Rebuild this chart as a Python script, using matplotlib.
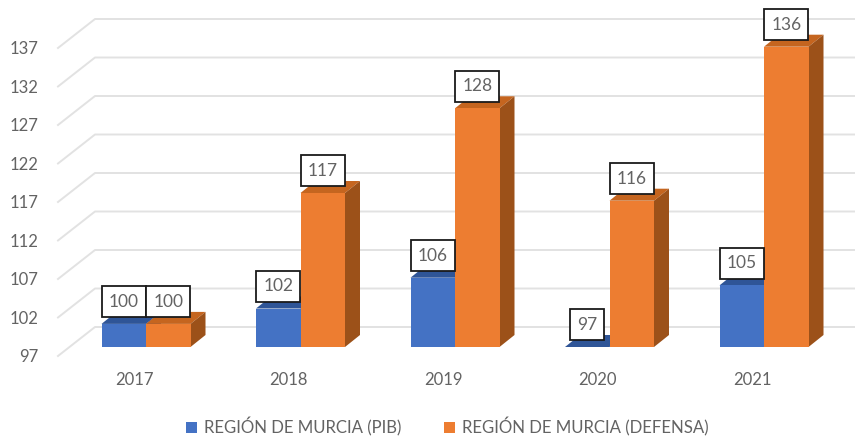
import numpy as np
import matplotlib
matplotlib.use("Agg")
import matplotlib.pyplot as plt
from matplotlib.patches import Polygon, Rectangle

years = ["2017", "2018", "2019", "2020", "2021"]
pib = [100, 102, 106, 97, 105]
defensa = [100, 117, 128, 116, 136]
y_ticks = [97, 102, 107, 112, 117, 122, 127, 132, 137]

W, H = 855, 436
px_x = 154.5  # pixels per category
px_y = 7.7  # pixels per unit
bar_w = 44.5 / px_x
depth_x = 15 / px_x
depth_y = 12 / px_y

plt.rcParams["font.family"] = ["Lato", "DejaVu Sans"]
fig = plt.figure(figsize=(W / 100, H / 100), dpi=100)
ax = fig.add_axes([0, 0, 1, 1])
ax.set_xlim(-146 / px_x, (W - 146) / px_x)
ax.set_ylim(97 - (H - 347) / px_y, 97 + 347 / px_y)
ax.axis("off")

grid_color = "#e2e2e2"
text_color = "#636363"
wall_x0 = ax.get_xlim()[0] + 58 / px_x
wall_x1 = ax.get_xlim()[0] + 95 / px_x
for t in y_ticks:
    y_front = t - 9 / px_y
    y_back = t + 20 / px_y
    ax.plot([wall_x0, wall_x1, ax.get_xlim()[1]], [y_front, y_back, y_back],
            color=grid_color, lw=1.4, zorder=1)
    ax.text(wall_x0 - 20 / px_x, t - 10 / px_y, str(t), ha="right", va="center",
            fontsize=12, color=text_color)


def draw_bar(x0, val, front, top, side):
    x1 = x0 + bar_w
    ax.add_patch(Polygon([(x0, val), (x0 + depth_x, val + depth_y),
                          (x1 + depth_x, val + depth_y), (x1, val)],
                         fc=top, ec="none", zorder=3))
    ax.add_patch(Polygon([(x1, 97), (x1 + depth_x, 97 + depth_y),
                          (x1 + depth_x, val + depth_y), (x1, val)],
                         fc=side, ec="none", zorder=3))
    if val > 97:
        ax.add_patch(Rectangle((x0, 97), bar_w, val - 97, fc=front, ec="none", zorder=3))


def draw_label(xc, val):
    w = (44 if val >= 100 else 34) / px_x
    h = 31 / px_y
    yc = val + 22 / px_y
    ax.add_patch(Rectangle((xc - w / 2, yc - h / 2), w, h, fc="white", ec="#1a1a1a",
                           lw=1.3, zorder=5))
    ax.text(xc, yc, str(val), ha="center", va="center", fontsize=12.5,
            color=text_color, zorder=6)


blue, blue_top, blue_side = "#4472c4", "#2f5597", "#2a4d8a"
orange, orange_top, orange_side = "#ed7d31", "#c5651f", "#9c5119"
for i, year in enumerate(years):
    draw_bar(i - bar_w, pib[i], blue, blue_top, blue_side)
    draw_bar(i, defensa[i], orange, orange_top, orange_side)
    draw_label(i - bar_w / 2, pib[i])
    draw_label(i + bar_w / 2, defensa[i])
    ax.text(i - 12 / px_x, 97 - 33 / px_y, year, ha="center", va="center",
            fontsize=12, color=text_color)

handles = [Rectangle((0, 0), 1, 1, fc=blue), Rectangle((0, 0), 1, 1, fc=orange)]
ax.legend(handles, ["REGIÓN DE MURCIA (PIB)", "REGIÓN DE MURCIA (DEFENSA)"],
          loc="center", bbox_to_anchor=(447.5 / W, 1 - 427 / H), ncol=2, frameon=False,
          fontsize=12.1, labelcolor=text_color, handlelength=0.68, handleheight=0.68,
          handletextpad=0.42, columnspacing=2.5)

fig.savefig("out.png", dpi=100)
